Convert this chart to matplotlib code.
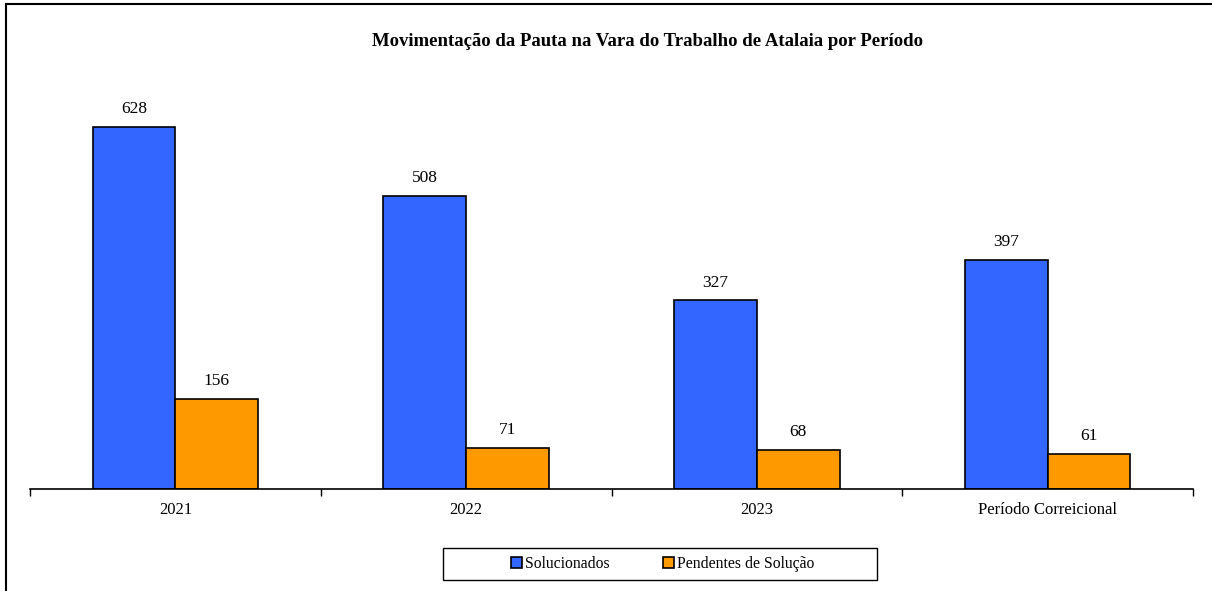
import numpy as np
import matplotlib
matplotlib.use("Agg")
import matplotlib.pyplot as plt
from matplotlib.lines import Line2D
from matplotlib.patches import Rectangle

plt.rcParams["font.family"] = ["Liberation Serif", "DejaVu Serif"]

periodos = ["2021", "2022", "2023", "Período Correicional"]
solucionados = [628, 508, 327, 397]
pendentes = [156, 71, 68, 61]

AZUL = "#3366FF"
LARANJA = "#FF9900"

W, H = 1212, 591
fig = plt.figure(figsize=(W / 100, H / 100), dpi=100)

# moldura (só topo e esquerda aparecem no recorte)
fig.add_artist(Line2D([6 / W, 1], [1 - 4 / H, 1 - 4 / H], color="black", lw=1.5))
fig.add_artist(Line2D([6 / W, 6 / W], [0, 1 - 4 / H], color="black", lw=1.5))

ax = fig.add_axes([30 / W, (H - 489) / H, (1193 - 30) / W, (489 - 85) / H])

x = np.arange(len(periodos))
width = 0.285
b1 = ax.bar(x - width / 2, solucionados, width, color=AZUL, edgecolor="black",
            linewidth=1.2, label="Solucionados")
b2 = ax.bar(x + width / 2, pendentes, width, color=LARANJA, edgecolor="black",
            linewidth=1.2, label="Pendentes de Solução")

for bars, vals in ((b1, solucionados), (b2, pendentes)):
    for r, v in zip(bars, vals):
        ax.annotate(str(v), (r.get_x() + r.get_width() / 2, v), xytext=(0, 7),
                    textcoords="offset points", ha="center", va="bottom",
                    fontsize=12.5)

ax.set_xlim(-0.5, len(periodos) - 0.5)
ax.set_ylim(0, 700)
ax.set_yticks([])
for s in ("left", "right", "top"):
    ax.spines[s].set_visible(False)
ax.spines["bottom"].set_linewidth(1.2)

ax.set_xticks(x)
ax.set_xticklabels(periodos, fontsize=12)
ax.tick_params(axis="x", length=0, pad=9)
ax.set_xticks(np.arange(len(periodos) + 1) - 0.5, minor=True)
ax.tick_params(axis="x", which="minor", length=5, width=1, direction="out")

fig.text(647 / W, 1 - 41 / H, "Movimentação da Pauta na Vara do Trabalho de Atalaia por Período",
         ha="center", va="center", fontsize=13.5, fontweight="bold")

# caixa da legenda
fig.add_artist(Rectangle((443 / W, 1 - 580 / H), (877 - 443) / W, 32 / H,
                         transform=fig.transFigure, fill=False, edgecolor="black", lw=1))
leg = fig.legend(handles=[b1, b2], loc="center", bbox_to_anchor=(663 / W, 1 - 564 / H),
                 ncol=2, frameon=False, fontsize=11.3,
                 handlelength=0.7, handleheight=0.7, handletextpad=0.2,
                 columnspacing=3.4)

fig.savefig("out.png", dpi=100)
